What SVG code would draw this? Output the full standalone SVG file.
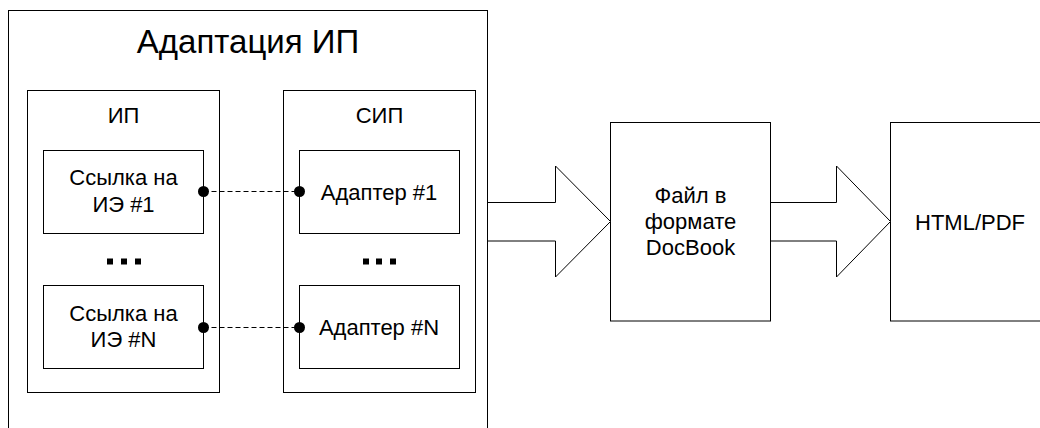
<svg xmlns="http://www.w3.org/2000/svg" width="1040" height="428" viewBox="0 0 1040 428">
<style>
.box{fill:#fff;stroke:#000;stroke-width:1}
.t{font-family:"Liberation Sans",Arial,sans-serif;font-size:22px;fill:#000;text-anchor:middle}
.title{font-family:"Liberation Sans",Arial,sans-serif;font-size:33px;fill:#000;text-anchor:middle}
.dash{stroke:#000;stroke-width:1;stroke-dasharray:5,3;fill:none}
.dot{fill:#000}
.sq{fill:#000}
.arr{fill:#fff;stroke:#000;stroke-width:1}
</style>
<rect width="1040" height="428" fill="#fff"/>
<g id="adaptation">
<rect class="box" x="8.5" y="10.5" width="479" height="430"/>
<text class="title" x="248" y="53">Адаптация ИП</text>
</g>
<g id="ip">
<rect class="box" x="27.5" y="90.5" width="192" height="302"/>
<text class="t" x="123.5" y="123">ИП</text>
<rect class="sq" x="107" y="258.5" width="6" height="6"/>
<rect class="sq" x="121" y="258.5" width="6" height="6"/>
<rect class="sq" x="135" y="258.5" width="6" height="6"/>
</g>
<g id="sip">
<rect class="box" x="283.5" y="90.5" width="192" height="302"/>
<text class="t" x="379.5" y="123">СИП</text>
<rect class="sq" x="363" y="258.5" width="6" height="6"/>
<rect class="sq" x="376" y="258.5" width="6" height="6"/>
<rect class="sq" x="390" y="258.5" width="6" height="6"/>
</g>
<g id="ref1">
<rect class="box" x="43.5" y="150.5" width="160" height="83"/>
<text class="t" x="123.5" y="185">Ссылка на</text>
<text class="t" x="123.5" y="211.5">ИЭ #1</text>
</g>
<g id="refN">
<rect class="box" x="43.5" y="285.5" width="160" height="83"/>
<text class="t" x="123.5" y="320.5">Ссылка на</text>
<text class="t" x="123.5" y="346.5">ИЭ #N</text>
</g>
<g id="adapter1">
<rect class="box" x="299.5" y="150.5" width="160" height="83"/>
<text class="t" x="379" y="199.5">Адаптер #1</text>
</g>
<g id="adapterN">
<rect class="box" x="299.5" y="285.5" width="160" height="83"/>
<text class="t" x="379" y="334.5">Адаптер #N</text>
</g>
<g id="docbook">
<rect class="box" x="610.5" y="122.5" width="160" height="198.5"/>
<text class="t" x="690.5" y="202.5">Файл в</text>
<text class="t" x="690.5" y="228.5">формате</text>
<text class="t" x="690.5" y="254.5">DocBook</text>
</g>
<g id="htmlpdf">
<rect class="box" x="890.5" y="122.5" width="200" height="198.5"/>
<text class="t" x="970" y="229.5">HTML/PDF</text>
</g>
<g id="connectors">
<line class="dash" x1="203.5" y1="191.5" x2="299.5" y2="191.5"/>
<circle class="dot" cx="203.5" cy="191.5" r="5.5"/>
<circle class="dot" cx="299.5" cy="191.5" r="5.5"/>
<line class="dash" x1="203.5" y1="327.5" x2="299.5" y2="327.5"/>
<circle class="dot" cx="203.5" cy="327.5" r="5.5"/>
<circle class="dot" cx="299.5" cy="327.5" r="5.5"/>
<path class="arr" d="M488,202.5 H555.5 V166 L610.5,221.5 L555.5,277 V241 H488"/>
<path class="arr" d="M771,202.5 H836.5 V166 L890.5,221.5 L836.5,277 V241 H771"/>
</g>
</svg>
